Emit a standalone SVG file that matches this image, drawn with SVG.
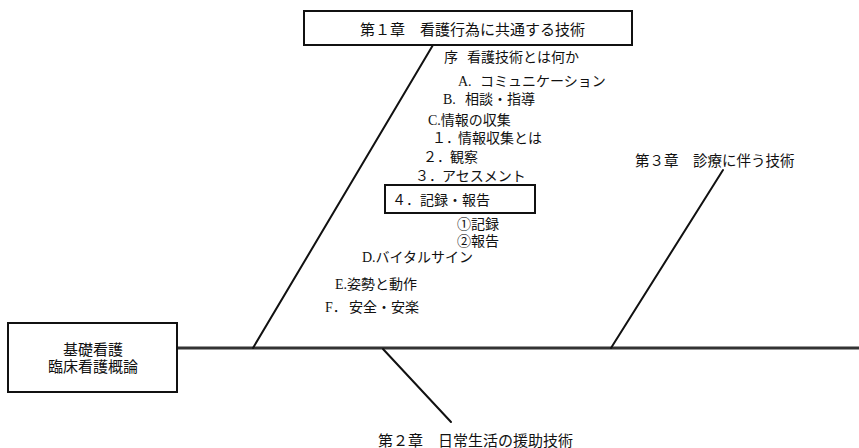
<svg xmlns="http://www.w3.org/2000/svg" width="859" height="448" viewBox="0 0 859 448">
<style>
  text { font-family: "Liberation Serif", "Noto Sans CJK JP", serif; fill: #111; }
  .t14 { font-size: 14px; }
  .t15 { font-size: 15px; }
  .box { fill: #fff; stroke: #111; stroke-width: 2; }
  .line { stroke: #111; stroke-width: 2; fill: none; stroke-linecap: round; }
  .spine { stroke: #333; stroke-width: 3; fill: none; }
</style>
<rect width="859" height="448" fill="#fff"/>
<g id="connectors">
  <line class="spine" x1="177" y1="348" x2="859" y2="348"/>
  <line class="line" x1="433" y1="45" x2="253" y2="348"/>
  <line class="line" x1="383" y1="349" x2="451" y2="422"/>
  <line class="line" x1="723" y1="170" x2="611" y2="348"/>
</g>
<g id="head">
  <rect class="box" x="8" y="323" width="169" height="69" stroke-width="1.5"/>
  <text class="t15" x="93" y="355" text-anchor="middle">基礎看護</text>
  <text class="t15" x="93" y="372" text-anchor="middle">臨床看護概論</text>
</g>
<g id="ch1">
  <rect class="box" x="304" y="11" width="328" height="34"/>
  <text class="t15" x="360" y="35">第１章　看護行為に共通する技術</text>
</g>
<g id="ch2">
  <text class="t15" x="378" y="446">第２章　日常生活の援助技術</text>
</g>
<g id="ch3">
  <text class="t14" x="635" y="166" style="font-size:14.5px">第３章　診療に伴う技術</text>
</g>
<g id="topics">
  <text class="t14" x="444" y="62">序</text>
  <text class="t14" x="467" y="62">看護技術とは何か</text>
  <text class="t14" x="458" y="86">A.</text>
  <text class="t14" x="480" y="86">コミュニケーション</text>
  <text class="t14" x="443" y="104">B.</text>
  <text class="t14" x="465" y="104">相談・指導</text>
  <text class="t14" x="428" y="125">C.情報の収集</text>
  <text class="t14" x="432" y="143">１．</text>
  <text class="t14" x="458" y="143">情報収集とは</text>
  <text class="t14" x="423" y="162">２．</text>
  <text class="t14" x="450" y="162">観察</text>
  <text class="t14" x="415" y="181">３．</text>
  <text class="t14" x="442" y="181">アセスメント</text>
  <g id="item-4">
    <rect class="box" x="385" y="185" width="150" height="28"/>
    <text class="t14" x="392" y="205">４．</text>
    <text class="t14" x="420" y="205">記録・報告</text>
  </g>
  <text class="t14" x="457" y="229">①記録</text>
  <text class="t14" x="457" y="246">②報告</text>
  <text class="t14" x="362" y="262">D.バイタルサイン</text>
  <text class="t14" x="335" y="289">E.姿勢と動作</text>
  <text class="t14" x="325" y="312">F．</text>
  <text class="t14" x="349" y="312">安全・安楽</text>
</g>
</svg>
